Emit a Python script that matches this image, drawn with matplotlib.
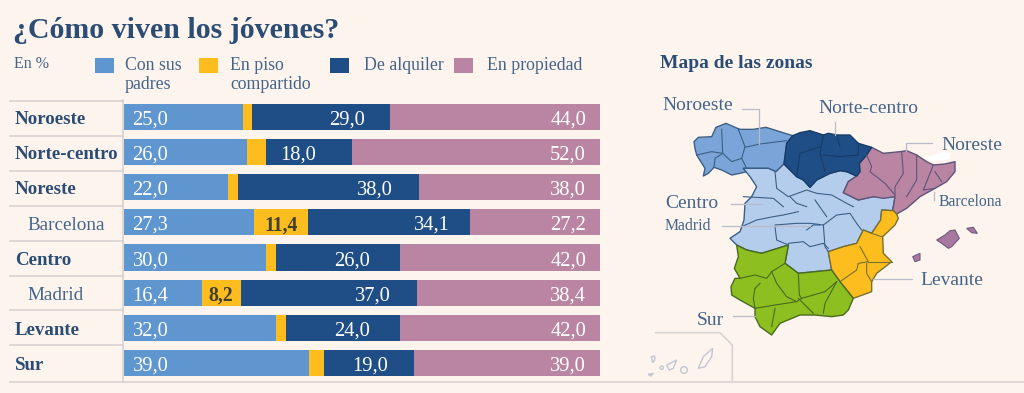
import matplotlib
matplotlib.use("Agg")
import matplotlib.pyplot as plt
from matplotlib.patches import Polygon, Rectangle, Circle

plt.rcParams["font.family"] = ["Liberation Serif", "DejaVu Serif"]

BG, NAVY, SOFT, RULE = "#fdf4ee", "#2b4c74", "#44648a", "#d9d2d2"
BLUE, YELLOW, DARK, PINK = "#5f96d0", "#fdbd1e", "#1f4e86", "#b985a3"

zones = ["Noroeste", "Norte-centro", "Noreste", "Barcelona", "Centro", "Madrid", "Levante", "Sur"]
is_city = [False, False, False, True, False, True, False, False]
padres = [25.0, 26.0, 22.0, 27.3, 30.0, 16.4, 32.0, 39.0]
piso = [2.0, 4.0, 2.0, 11.4, 2.0, 8.2, 2.0, 3.0]
alquiler = [29.0, 18.0, 38.0, 34.1, 26.0, 37.0, 24.0, 19.0]
propiedad = [44.0, 52.0, 38.0, 27.2, 42.0, 38.4, 42.0, 39.0]
series_names = ["Con sus\npadres", "En piso\ncompartido", "De alquiler", "En propiedad"]

# map outlines, in thirds of a pixel from (640, 40)
noroeste = [(162,305),(175,292),(215,290),(228,262),(258,250),(285,262),(300,268),(340,268),(378,262),(410,272),(458,287),(440,310),(432,372),(408,395),(385,385),(310,385),(320,395),(300,400),(275,405),(245,390),(222,382),(205,400),(190,408),(195,385),(170,345),(165,325)]
norte_centro = [(458,287),(480,278),(510,272),(550,285),(565,280),(590,285),(630,285),(655,310),(695,322),(680,345),(658,370),(660,395),(650,408),(620,395),(600,392),(570,400),(530,420),(510,442),(490,420),(470,410),(432,372),(440,310)]
noreste = [(695,322),(730,340),(780,335),(800,332),(830,345),(860,365),(880,375),(915,372),(945,365),(945,395),(920,425),(885,445),(840,470),(800,505),(770,522),(758,512),(765,470),(730,475),(700,470),(655,480),(610,458),(625,425),(650,408),(660,395),(658,370),(680,345)]
centro = [(310,385),(385,385),(408,395),(432,372),(470,410),(490,420),(510,442),(530,420),(570,400),(600,392),(620,395),(650,408),(625,425),(610,458),(655,480),(700,470),(765,470),(758,512),(725,510),(722,540),(695,580),(670,570),(650,610),(610,620),(565,635),(575,690),(475,700),(435,670),(445,615),(365,640),(320,630),(290,615),(270,595),(300,575),(312,540),(315,490),(335,470),(350,440),(330,410)]
levante = [(725,510),(760,512),(770,522),(775,535),(765,555),(728,590),(730,640),(755,665),(710,700),(695,725),(695,755),(640,775),(600,725),(575,690),(565,635),(610,620),(650,610),(670,570),(695,580),(722,540)]
sur = [(290,615),(320,630),(365,640),(445,615),(435,670),(475,700),(575,690),(600,725),(640,775),(625,810),(610,825),(575,830),(525,825),(480,825),(420,850),(395,885),(360,860),(345,830),(345,805),(300,780),(275,765),(273,740),(285,715),(300,715),(283,685),(295,650)]
mallorca = [(890,600),(915,585),(930,572),(945,570),(958,595),(935,620),(925,625),(905,610)]
menorca = [(980,565),(1000,562),(1012,580),(995,578)]
ibiza = [(818,650),(840,640),(840,660),(825,665)]
noroeste_lines = [[(245,268),(248,340),(275,365),(305,355)], [(170,345),(215,335),(248,340)], [(222,382),(225,355),(248,340)], [(295,268),(315,320),(305,355),(320,385)], [(315,322),(360,312),(440,302)]]
norte_centro_lines = [[(470,410),(480,340),(540,320)], [(550,285),(540,340),(555,395)], [(550,345),(600,350),(655,345),(655,310)], [(590,285),(600,320)]]
noreste_lines = [[(680,345),(695,380),(690,395),(735,430),(765,465)], [(785,335),(790,400),(765,440),(765,465)], [(830,345),(830,420),(800,470)], [(880,375),(850,450),(885,445)], [(885,395),(905,425)]]
centro_lines = [[(405,395),(410,445),(445,470),(500,450),(530,460),(575,465),(620,490),(640,500)], [(310,470),(400,475),(430,500)], [(450,470),(470,490),(500,500)], [(525,480),(560,530)], [(305,560),(350,540),(400,530),(430,525),(475,515)], [(405,560),(410,600),(445,615)], [(405,555),(470,550),(510,550),(550,555),(590,525),(630,520),(650,550),(665,570)], [(550,555),(555,620),(565,635)], [(445,610),(490,605),(510,620),(550,610),(565,625)], [(500,570),(520,555),(540,555)]]
levante_lines = [[(660,620),(685,665),(655,670),(650,690),(600,725)], [(685,665),(730,665),(755,665)], [(680,670),(680,700),(695,725)], [(695,580),(725,590)]]
sur_lines = [[(395,695),(380,715),(345,705),(300,715)], [(435,670),(395,695),(410,730),(440,770),(470,785),(485,775),(555,755),(590,725)], [(345,745),(340,775),(345,805)], [(360,730),(345,745)], [(345,805),(405,795),(470,785)], [(405,805),(395,860)], [(475,700),(478,765),(485,775)], [(550,820),(555,790),(590,725)], [(475,775),(520,820)]]
canary_frame = [(47,878),(240,878),(277,915),(277,1020)]
canary_isles = [[(34,950),(44,948),(44,960),(38,968)], [(80,975),(110,960),(100,985),(88,990)], [(175,985),(190,950),(218,925),(215,950),(195,980)], [(25,1003),(40,1000),(32,1008)]]
canary_dots = [(65,983,5), (132,990,10)]
leaders = [[(305,208),(358,208),(358,312)], [(585,245),(585,285)], [(875,310),(798,310),(798,332)], [(272,492),(365,492)], [(883,455),(883,480)], [(245,558),(510,558)], [(817,718),(700,718)], [(278,828),(345,828)]]
smudge = [(850,352),(880,345),(910,335),(935,340),(925,360),(900,362),(870,362)]

def px(pts):
    return [(640 + x / 3, 40 + y / 3) for x, y in pts]

fig = plt.figure(figsize=(10.24, 3.93), dpi=100, facecolor=BG)
ax = fig.add_axes([123.5 / 1024, 1 - 380.7 / 393, 476.5 / 1024, 281.6 / 393])
ax.set_facecolor("none")
ax.set_xlim(0, 100)
ax.set_ylim(7.5, -0.5)
ax.axis("off")

rows = range(len(zones))
left = [0.0] * len(zones)
for vals, col in zip([padres, piso, alquiler, propiedad], [BLUE, YELLOW, DARK, PINK]):
    ax.barh(rows, vals, left=left, height=0.74, color=col, linewidth=0)
    left = [a + b for a, b in zip(left, vals)]

def fmt(v):
    return f"{v:.1f}".replace(".", ",")

dark_shift = [-43, -54, -44, -39, -48, -44, -48, -44]  # label offset from end of dark segment, px
s = 14.8
dy = -2.2
for i in rows:
    ax.annotate(fmt(padres[i]), (0, i), xytext=(6.5, dy), textcoords="offset points", color="white", fontsize=s, va="center", ha="left")
    end = padres[i] + piso[i] + alquiler[i]
    ax.annotate(fmt(alquiler[i]), (end, i), xytext=(dark_shift[i] * 0.72, dy), textcoords="offset points", color="white", fontsize=s, va="center", ha="center")
    ax.annotate(fmt(propiedad[i]), (100, i), xytext=(-10, dy), textcoords="offset points", color="white", fontsize=s, va="center", ha="right")
    if piso[i] > 5:
        ax.annotate(fmt(piso[i]), (padres[i] + piso[i] / 2, i), xytext=(0, dy), textcoords="offset points", color="#3f3f2c", fontsize=14.2, va="center", ha="center", fontweight="bold")

# overlay in pixel coordinates for text, rules and the map
ov = fig.add_axes([0, 0, 1, 1])
ov.set_xlim(0, 1024)
ov.set_ylim(393, 0)
ov.axis("off")
ov.patch.set_alpha(0)

ov.text(13, 30, "¿Cómo viven los jóvenes?", color=NAVY, fontsize=21.5, fontweight="bold", va="center")
ov.text(14, 64, "En %", color=SOFT, fontsize=11.5, va="center")
for x, tx, name, col in zip([95, 199, 330, 454], [125, 230, 364, 487], series_names, [BLUE, YELLOW, DARK, PINK]):
    ov.add_patch(Rectangle((x, 58), 19, 14.5, facecolor=col, linewidth=0))
    ov.text(tx, 56.5, name, color=SOFT, fontsize=12.8, va="top", linespacing=1.2)

for y in [101, 136, 171, 205.5, 241, 275.5, 310, 345]:
    ov.plot([10, 123], [y, y], color=RULE, lw=1.2)
ov.plot([10, 1024], [382, 382], color=RULE, lw=1.2)
ov.plot([123, 123], [100, 382], color=RULE, lw=1.2)

for i, name in enumerate(zones):
    y = 119.5 + i * 35.2
    if is_city[i]:
        ov.text(27, y, name, color=SOFT, fontsize=13.8, va="center")
    else:
        ov.text(15, y, name, color=NAVY, fontsize=13.6, fontweight="bold", va="center")

ov.text(660, 64, "Mapa de las zonas", color=NAVY, fontsize=14, fontweight="bold", va="center")

for pts, col, ec, lines in [(noroeste, "#7ba5d8", "#3c5f86", noroeste_lines), (centro, "#b5cdec", "#3c5f86", centro_lines),
                            (noreste, PINK, "#5f5478", noreste_lines), (levante, YELLOW, "#7a7030", levante_lines),
                            (sur, "#8cbf1f", "#4a6a20", sur_lines), (norte_centro, DARK, "#173c68", norte_centro_lines)]:
    ov.add_patch(Polygon(px(pts), closed=True, facecolor=col, edgecolor=ec, lw=1.0, joinstyle="round"))
    for line in lines:
        ov.plot(*zip(*px(line)), color=ec, lw=0.8, solid_joinstyle="round")
for pts in [mallorca, menorca, ibiza]:
    ov.add_patch(Polygon(px(pts), closed=True, facecolor="#a9789f", edgecolor="#6e5a80", lw=0.8))
ov.add_patch(Polygon(px(smudge), closed=True, facecolor="white", linewidth=0))
for line in leaders:
    ov.plot(*zip(*px(line)), color="#b9bcc6", lw=0.9)
ov.plot(*zip(*px(canary_frame)), color=RULE, lw=1.2)
for isle in canary_isles:
    ov.add_patch(Polygon(px(isle), closed=True, facecolor="none", edgecolor="#c3c6d2", lw=1))
for x, y, r in canary_dots:
    (cx, cy), = px([(x, y)])
    ov.add_patch(Circle((cx, cy), r / 3, facecolor="none", edgecolor="#c3c6d2", lw=1))

for x, y, name, size in [(662, 106, "Noroeste", 14), (818, 108.5, "Norte-centro", 14), (941, 145, "Noreste", 14),
                         (665, 204, "Centro", 14), (939, 202, "Barcelona", 11.3), (665, 226.5, "Madrid", 11.3),
                         (920, 280.5, "Levante", 14), (697, 320.5, "Sur", 14)]:
    ov.text(x, y, name, color=SOFT, fontsize=size, va="center")

fig.savefig("out.png", dpi=100, facecolor=BG)
